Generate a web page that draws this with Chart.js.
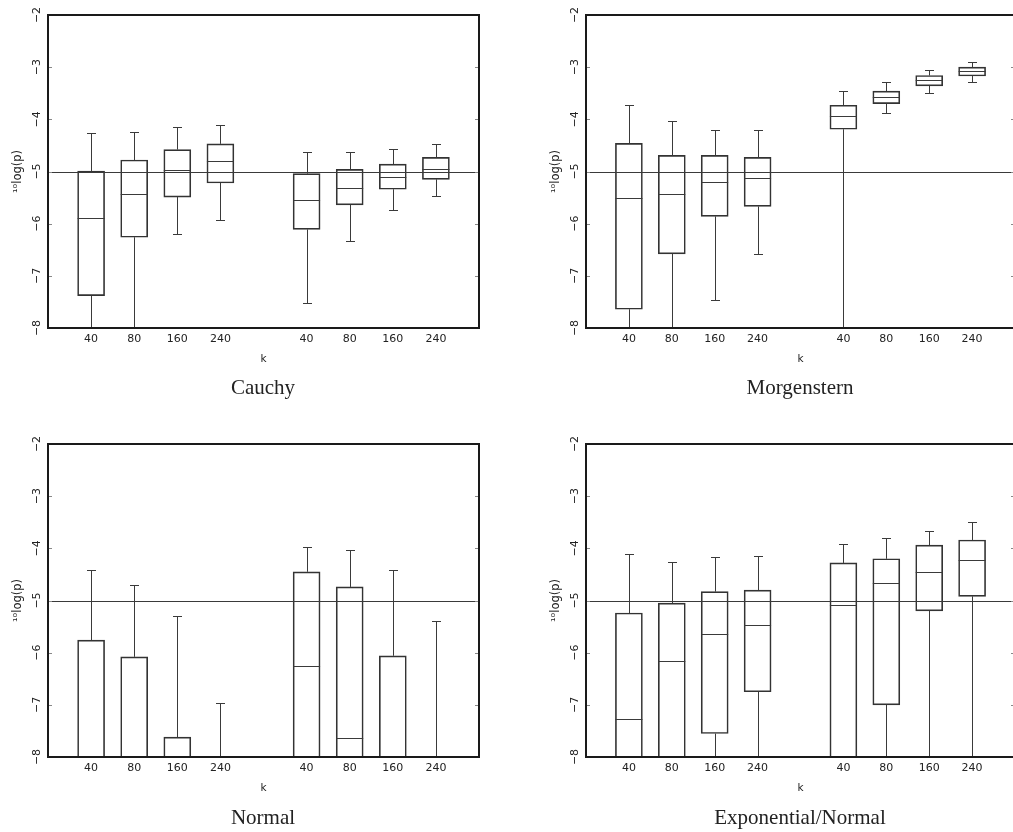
<!DOCTYPE html>
<html>
<head>
<meta charset="utf-8">
<script src="https://cdn.jsdelivr.net/npm/chart.js@4.4.1/dist/chart.umd.min.js"></script>
<style>
  html, body { margin: 0; padding: 0; background: #fff; }
  body { width: 1013px; height: 832px; overflow: hidden; position: relative; }
  .panel { position: absolute; }
  .panel canvas { display: block; }
  .caption {
    position: absolute; white-space: nowrap; transform: translateX(-50%);
    font: 21px/21px "Liberation Serif", "Times New Roman", serif; color: #222;
  }
</style>
</head>
<body>
<div class="panel" style="left:0;top:0"><canvas id="cauchy" width="500" height="400"></canvas></div>
<div class="panel" style="left:538px;top:0"><canvas id="morgenstern" width="500" height="400"></canvas></div>
<div class="panel" style="left:0;top:429px"><canvas id="normal" width="500" height="400"></canvas></div>
<div class="panel" style="left:538px;top:429px"><canvas id="expnormal" width="500" height="400"></canvas></div>
<div class="caption" style="left:263px;top:377px">Cauchy</div>
<div class="caption" style="left:800px;top:377px">Morgenstern</div>
<div class="caption" style="left:263px;top:807px">Normal</div>
<div class="caption" style="left:800px;top:807px">Exponential/Normal</div>
<script>
(function () {
  'use strict';

  var positions = [1, 2, 3, 4, 6, 7, 8, 9];
  var kLabels = ['40', '80', '160', '240', '40', '80', '160', '240'];
  var yTicks = [-8, -7, -6, -5, -4, -3, -2];
  var threshold = -5;

  // valeurs sous -8 : hors cadre, coupées par le clip
  var cauchyLow = [-9, -9, -6.19, -5.93, -7.53, -6.34, -5.73, -5.47];
  var cauchyQ1 = [-7.38, -6.26, -5.49, -5.22, -6.11, -5.64, -5.34, -5.15];
  var cauchyMed = [-5.90, -5.43, -4.98, -4.80, -5.54, -5.31, -5.10, -4.96];
  var cauchyQ3 = [-4.99, -4.78, -4.58, -4.47, -5.04, -4.96, -4.86, -4.73];
  var cauchyHigh = [-4.26, -4.25, -4.14, -4.10, -4.62, -4.62, -4.57, -4.48];

  var morgLow = [-9, -9, -7.46, -6.58, -9, -3.88, -3.49, -3.28];
  var morgQ1 = [-7.64, -6.58, -5.86, -5.67, -4.19, -3.70, -3.36, -3.17];
  var morgMed = [-5.50, -5.43, -5.21, -5.13, -3.94, -3.58, -3.25, -3.08];
  var morgQ3 = [-4.46, -4.69, -4.69, -4.73, -3.73, -3.46, -3.16, -3.00];
  var morgHigh = [-3.72, -4.03, -4.21, -4.21, -3.46, -3.29, -3.05, -2.91];

  var normalLow = [-9.4, -9.4, -9.4, -9.4, -9.4, -9.4, -9.4, -9.4];
  var normalQ1 = [-9.0, -9.0, -9.0, -9.2, -9.0, -9.0, -9.0, -9.2];
  var normalMed = [-8.6, -8.6, -8.6, -9.0, -6.25, -7.63, -8.6, -9.0];
  var normalQ3 = [-5.76, -6.08, -7.62, -8.8, -4.45, -4.74, -6.06, -8.8];
  var normalHigh = [-4.42, -4.70, -5.30, -6.97, -3.98, -4.03, -4.41, -5.40];

  var expLow = [-9.4, -9.4, -9.4, -9.4, -9.4, -9.4, -9.4, -9.4];
  var expQ1 = [-9.0, -9.0, -7.55, -6.75, -9.0, -7.00, -5.20, -4.92];
  var expMed = [-7.28, -6.16, -5.64, -5.47, -5.08, -4.67, -4.45, -4.22];
  var expQ3 = [-5.24, -5.05, -4.83, -4.80, -4.28, -4.20, -3.94, -3.84];
  var expHigh = [-4.10, -4.27, -4.17, -4.15, -3.91, -3.80, -3.66, -3.50];

  Chart.defaults.font.family = '"DejaVu Sans", sans-serif';
  Chart.defaults.font.size = 10.5;
  Chart.defaults.color = '#222';

  function seg(ctx, x1, y1, x2, y2) {
    ctx.beginPath();
    ctx.moveTo(x1, y1);
    ctx.lineTo(x2, y2);
    ctx.stroke();
  }

  var boxPlot = {
    id: 'boxPlot',
    afterDatasetsDraw: function (chart) {
      var ctx = chart.ctx;
      var area = chart.chartArea;
      var y = chart.scales.y;
      var ds = chart.data.datasets[0];
      var meta = chart.getDatasetMeta(0);
      var cap = 4.5;

      ctx.save();
      ctx.beginPath();
      ctx.rect(area.left, area.top, area.right - area.left, area.bottom - area.top);
      ctx.clip();
      ctx.lineWidth = 1;
      ctx.strokeStyle = '#3a3a3a';

      var ty = Math.round(y.getPixelForValue(threshold)) + 0.5;
      seg(ctx, area.left, ty, area.right, ty);

      meta.data.forEach(function (bar, i) {
        var cx = Math.round(bar.x) + 0.5;
        var half = bar.width / 2;
        var yQ1 = y.getPixelForValue(ds.q1[i]);
        var yQ3 = y.getPixelForValue(ds.q3[i]);
        var yLo = Math.round(y.getPixelForValue(ds.low[i])) + 0.5;
        var yHi = Math.round(y.getPixelForValue(ds.high[i])) + 0.5;
        var yMed = Math.round(y.getPixelForValue(ds.median[i])) + 0.5;

        seg(ctx, cx, yQ3, cx, yHi);
        seg(ctx, cx - cap, yHi, cx + cap, yHi);
        seg(ctx, cx, yQ1, cx, yLo);
        seg(ctx, cx - cap, yLo, cx + cap, yLo);
        seg(ctx, bar.x - half, yMed, bar.x + half, yMed);
      });
      ctx.restore();
    },
    afterDraw: function (chart) {
      var ctx = chart.ctx;
      var area = chart.chartArea;
      var y = chart.scales.y;
      ctx.save();
      ctx.lineWidth = 1;
      ctx.strokeStyle = '#888';
      y.ticks.forEach(function (t) {
        var py = Math.round(y.getPixelForValue(t.value)) + 0.5;
        seg(ctx, area.left, py, area.left + 4, py);
        seg(ctx, area.right - 4, py, area.right, py);
      });
      ctx.lineWidth = 2;
      ctx.strokeStyle = '#1a1a1a';
      ctx.strokeRect(Math.round(area.left), Math.round(area.top),
        Math.round(area.right - area.left), Math.round(area.bottom - area.top));
      ctx.restore();
    }
  };

  function makePanel(id, low, q1, med, q3, high, rightPad) {
    new Chart(document.getElementById(id), {
      type: 'bar',
      data: {
        datasets: [{
          data: positions.map(function (p, i) { return { x: p, y: [q1[i], q3[i]] }; }),
          low: low,
          q1: q1,
          median: med,
          q3: q3,
          high: high,
          backgroundColor: 'rgba(0,0,0,0)',
          borderColor: '#333',
          borderWidth: 1,
          borderSkipped: false,
          barThickness: 27
        }]
      },
      options: {
        responsive: false,
        animation: false,
        events: [],
        layout: { padding: { top: 15, right: rightPad, bottom: 0, left: 0 } },
        plugins: {
          legend: { display: false },
          tooltip: { enabled: false }
        },
        scales: {
          x: {
            type: 'linear',
            min: 0,
            max: 10,
            offset: false,
            grid: { display: false, drawTicks: false, offset: false },
            border: { display: false },
            afterBuildTicks: function (s) {
              s.ticks = positions.map(function (v) { return { value: v }; });
            },
            afterFit: function (s) { s.height = 72; },
            ticks: {
              autoSkip: false,
              maxRotation: 0,
              padding: 5,
              font: { size: 11 },
              callback: function (v) { return kLabels[positions.indexOf(v)]; }
            },
            title: { display: true, text: 'k', padding: { top: 0, bottom: 34 } }
          },
          y: {
            min: -8,
            max: -2,
            grid: { display: false, drawTicks: false },
            border: { display: false },
            afterBuildTicks: function (s) {
              s.ticks = yTicks.map(function (v) { return { value: v }; });
            },
            afterFit: function (s) { s.width = 48; },
            ticks: {
              minRotation: 90,
              maxRotation: 90,
              crossAlign: 'center',
              padding: 3,
              font: { size: 11 },
              callback: function (v) { return v < 0 ? '\u2212' + Math.abs(v) : String(v); }
            },
            title: { display: true, text: '\u00b9\u2070log(p)', font: { size: 11.5 }, padding: { top: 11, bottom: 0 } }
          }
        }
      },
      plugins: [boxPlot]
    });
  }

  makePanel('cauchy', cauchyLow, cauchyQ1, cauchyMed, cauchyQ3, cauchyHigh, 21);
  makePanel('morgenstern', morgLow, morgQ1, morgMed, morgQ3, morgHigh, 23);
  makePanel('normal', normalLow, normalQ1, normalMed, normalQ3, normalHigh, 21);
  makePanel('expnormal', expLow, expQ1, expMed, expQ3, expHigh, 23);
})();
</script>
</body>
</html>
